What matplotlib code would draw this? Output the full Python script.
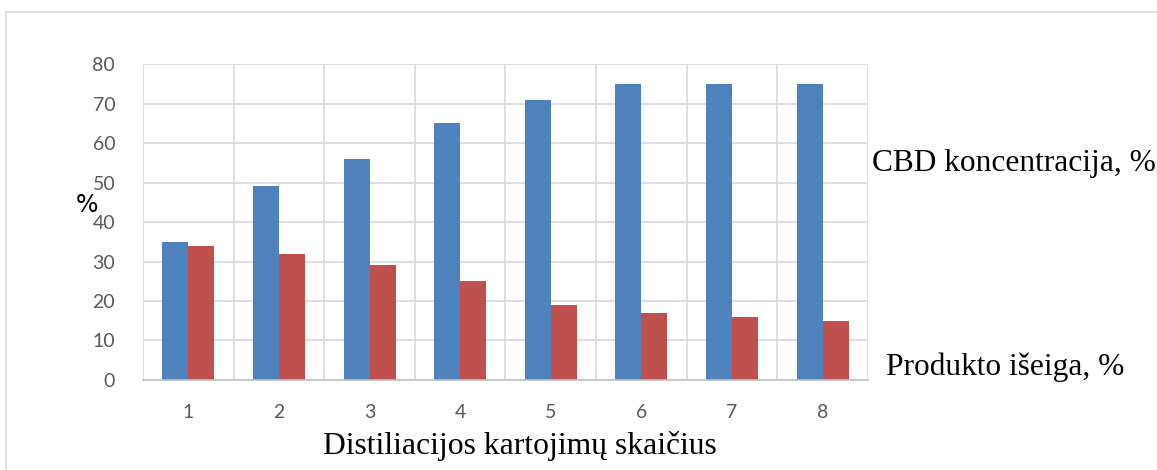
import matplotlib.pyplot as plt
from matplotlib.patches import Rectangle
import numpy as np

runs = ['1', '2', '3', '4', '5', '6', '7', '8']
cbd_conc = [35, 49, 56, 65, 71, 75, 75, 75]
product_yield = [34, 32, 29, 25, 19, 17, 16, 15]

blue = '#4F81BD'
red = '#C0504D'
grid = '#D9D9D9'

fig = plt.figure(figsize=(11.57, 4.70), dpi=100)
ax = fig.add_axes([0.1236, 0.1915, 0.6266, 0.6723])

# light frame around the chart area
fig.patches.append(Rectangle((6 / 1157, -0.1), 1.2, 1.1 - 12 / 470,
                             transform=fig.transFigure, fill=False,
                             edgecolor=grid, linewidth=1.2))

x = np.arange(len(runs))
w = 0.287
ax.bar(x - w / 2, cbd_conc, w, color=blue, zorder=3)
ax.bar(x + w / 2, product_yield, w, color=red, zorder=3)

ax.set_xlim(-0.5, len(runs) - 0.5)
ax.set_ylim(0, 80)
ax.set_yticks(range(0, 81, 10))
ax.set_xticks(x)
ax.set_xticklabels(runs)

# vertical lines between categories
ax.set_xticks(np.arange(-0.5, len(runs)), minor=True)
ax.grid(axis='y', color=grid, linewidth=1.2, zorder=0)
ax.grid(axis='x', which='minor', color=grid, linewidth=1.2, zorder=0)
ax.grid(axis='x', which='major', visible=False)

for s in ['top', 'right', 'left']:
    ax.spines[s].set_visible(False)
ax.spines['bottom'].set_color('#BFBFBF')
ax.spines['bottom'].set_linewidth(1.2)
ax.spines['bottom'].set_zorder(4)

ax.tick_params(which='both', length=0)
ax.tick_params(axis='y', pad=20)
ax.tick_params(axis='x', pad=17)
for lab in ax.get_xticklabels() + ax.get_yticklabels():
    lab.set_fontfamily('Lato')
    lab.set_fontsize(14)
    lab.set_color('#595959')

fig.text(87 / 1157, 1 - 205 / 470, '%', fontsize=17, family='DejaVu Sans',
         ha='center', va='center')
fig.text(520 / 1157, 1 - 446 / 470, 'Distiliacijos kartojimų skaičius',
         fontsize=22.8, family='Liberation Serif', ha='center', va='center')
fig.text(872 / 1157, 1 - 163 / 470, 'CBD koncentracija, %',
         fontsize=22.6, family='Liberation Serif', ha='left', va='center')
fig.text(886 / 1157, 1 - 367 / 470, 'Produkto išeiga, %',
         fontsize=22.6, family='Liberation Serif', ha='left', va='center')

fig.savefig('out.png', dpi=100)
